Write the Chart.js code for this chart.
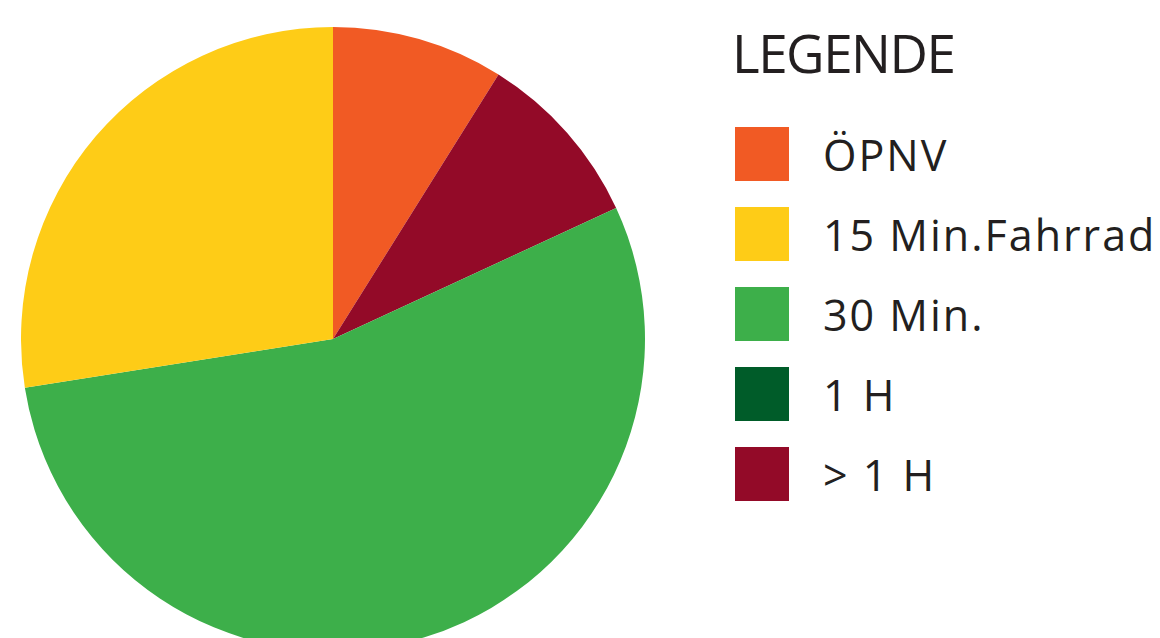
<!DOCTYPE html>
<html>
<head>
<meta charset="utf-8">
<script src="https://cdn.jsdelivr.net/npm/chart.js@4/dist/chart.umd.min.js"></script>
<style>
  html, body { margin: 0; padding: 0; background: #ffffff; }
  body { width: 1160px; height: 638px; overflow: hidden; position: relative; font-family: "Open Sans", "Noto Sans", sans-serif; color: #231f20; }
  #pieWrap { position: absolute; left: 21px; top: 27px; width: 624px; height: 624px; }
  #legendTitle { position: absolute; left: 732px; top: 26px; font-size: 53px; line-height: 53px; letter-spacing: -1.5px; white-space: nowrap; }
  #legend { position: absolute; left: 735px; top: 127px; }
  .row { display: flex; align-items: center; height: 54px; margin-bottom: 26px; }
  .box { width: 54px; height: 54px; flex: none; }
  .lbl { margin-left: 34px; font-size: 43px; line-height: 54px; letter-spacing: 2px; white-space: nowrap; position: relative; top: 1px; }
</style>
</head>
<body>
<div id="pieWrap"><canvas id="chart"></canvas></div>
<div id="legendTitle"></div>
<div id="legend"></div>
<script>
// Data (shares in percent), listed in legend order
const categories = ['ÖPNV', '15 Min.Fahrrad', '30 Min.', '1 H', '> 1 H'];
const shares = [8.9, 27.5, 54.4, 0, 9.2];
const sliceColors = ['#F15A24', '#FECC17', '#3DAF4A', '#005C29', '#930A28'];
const legendTitle = 'LEGENDE';
// clockwise drawing order of the slices, starting at 12 o'clock
const sliceOrder = [0, 4, 3, 2, 1];

const ctx = document.getElementById('chart').getContext('2d');
new Chart(ctx, {
  type: 'pie',
  data: {
    labels: sliceOrder.map(i => categories[i]),
    datasets: [{
      data: sliceOrder.map(i => shares[i]),
      backgroundColor: sliceOrder.map(i => sliceColors[i]),
      borderWidth: 0
    }]
  },
  options: {
    responsive: true,
    maintainAspectRatio: false,
    animation: false,
    layout: { padding: 0 },
    plugins: {
      legend: { display: false },
      tooltip: { enabled: false }
    }
  }
});

document.getElementById('legendTitle').textContent = legendTitle;
const legendEl = document.getElementById('legend');
categories.forEach((c, i) => {
  const row = document.createElement('div');
  row.className = 'row';
  const box = document.createElement('div');
  box.className = 'box';
  box.style.background = sliceColors[i];
  const lbl = document.createElement('span');
  lbl.className = 'lbl';
  lbl.textContent = c;
  row.appendChild(box);
  row.appendChild(lbl);
  legendEl.appendChild(row);
});
</script>
</body>
</html>
